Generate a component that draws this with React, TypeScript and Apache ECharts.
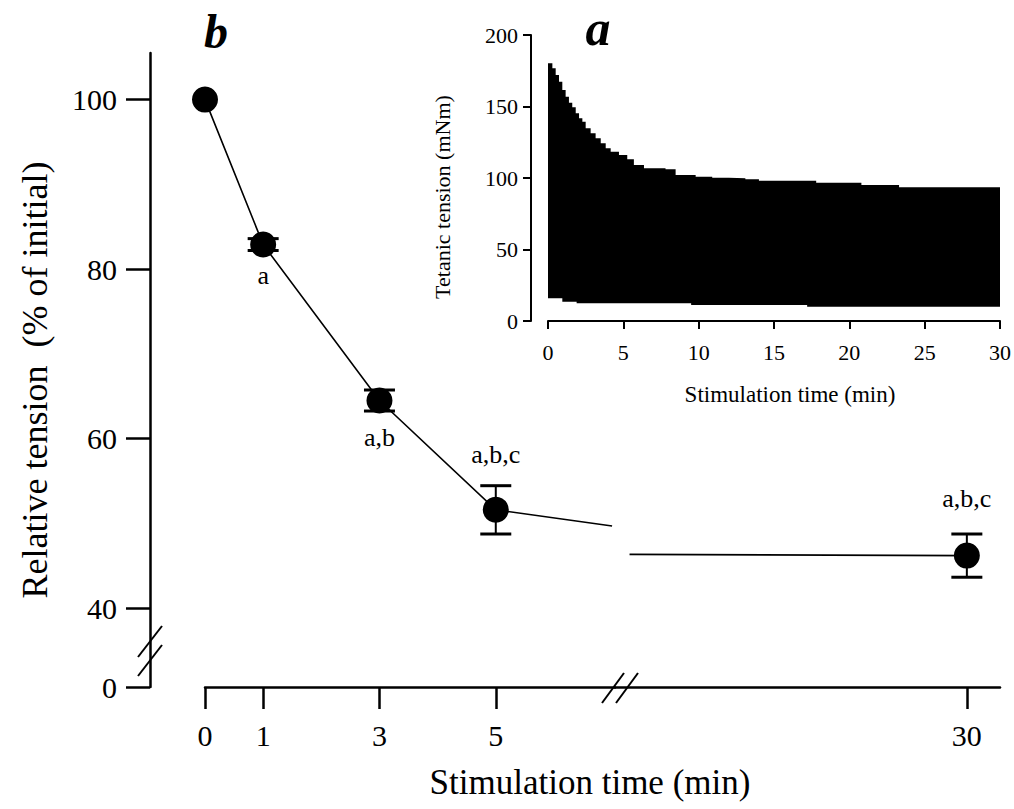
import React, { useEffect, useRef } from 'react';
import * as echarts from 'echarts';

// ---------- Panel b data ----------
const earlyTimes = [0, 1, 3, 5];
const earlyValues = [100, 82.9, 64.5, 51.6];
const earlyErrors = [0, 0.7, 1.24, 2.85];
const earlyLabels = ['', 'a', 'a,b', 'a,b,c'];
const lateTimes = [30];
const lateValues = [46.2];
const lateErrors = [2.55];
const lateLabels = ['a,b,c'];
// ends of the connecting line on either side of the x-axis break
const lineBreakLeft = [7.0, 49.7];
const lineBreakRight = [24.2, 46.35];
const xTicksLeft = [0, 1, 3, 5];
const xTicksRight = [30];
const yTicks = [40, 60, 80, 100];
const yBreakZeroLabel = '0';

// ---------- Panel a (inset) data ----------
const insetTopTimes = [0, 0.29, 0.51, 0.73, 0.95, 1.17, 1.39, 1.61, 1.84, 2.06, 2.28, 2.5, 2.83, 3.16, 3.5, 3.83, 4.16, 4.71, 5.26, 5.7, 6.37, 7.8, 8.47, 9.8, 10.9, 12, 13.1, 14, 17.8, 20.8, 23.3, 30];
const insetTopValues = [180.2, 176.7, 172.0, 167.3, 161.5, 156.9, 152.7, 149.4, 145.2, 141.7, 139.4, 134.8, 131.3, 127.8, 124.3, 120.8, 118.4, 116.1, 113.1, 109.1, 106.8, 106.1, 102.1, 100.9, 100.2, 99.8, 99.1, 98.1, 96.7, 95.1, 93.5, 93.5];
const insetBottomTimes = [0, 0.95, 1.9, 9.5, 17.2, 30];
const insetBottomValues = [15.9, 13.5, 12.4, 11.2, 10.0, 10.0];

// ---------- layout constants ----------
const FONT = '"Liberation Serif", "Times New Roman", serif';
const Y_MIN = 30.7; // axis floor, where the broken axis shows 0
const Y_MAX = 105.5;
const labelOffsets = { early: [0, 31, 37, -55], late: [-57] };

export default function App() {
  const ref = useRef<HTMLDivElement>(null);
  useEffect(() => {
    if (!ref.current) return;
    const chart = echarts.init(ref.current, null, { renderer: 'svg' });

    const errRender = (params: any, api: any) => {
      const x = api.value(0), y = api.value(1), e = api.value(2);
      if (!e) return { type: 'group', children: [] };
      const t = api.coord([x, y + e]);
      const b = api.coord([x, y - e]);
      const hw = 15.5;
      return {
        type: 'group',
        children: [
          { type: 'line', shape: { x1: t[0], y1: t[1], x2: b[0], y2: b[1] }, style: { stroke: '#000', lineWidth: 2 } },
          { type: 'line', shape: { x1: t[0] - hw, y1: t[1], x2: t[0] + hw, y2: t[1] }, style: { stroke: '#000', lineWidth: 3 } },
          { type: 'line', shape: { x1: b[0] - hw, y1: b[1], x2: b[0] + hw, y2: b[1] }, style: { stroke: '#000', lineWidth: 3 } },
        ],
      };
    };

    const pointItems = (times: number[], vals: number[], labels: string[], offs: number[]) =>
      times.map((t, i) => ({
        value: [t, vals[i]],
        label: {
          show: !!labels[i],
          formatter: labels[i],
          position: [13, 13 + offs[i]],
          align: 'center',
          verticalAlign: 'middle',
          fontSize: 26,
          fontFamily: FONT,
          color: '#000',
        },
      }));

    const mainAxisLine = { show: true, onZero: false, lineStyle: { color: '#000', width: 2.5 } };
    const sl = { stroke: '#000', lineWidth: 2 };

    const option: any = {
      animation: false,
      backgroundColor: '#fff',
      textStyle: { fontFamily: FONT, color: '#000' },
      grid: [
        { left: 205, top: 53, width: 410, height: 634 },
        { left: 615, top: 53, width: 385, height: 634 },
        { left: 548, top: 35, width: 452, height: 286 },
      ],
      xAxis: [
        {
          gridIndex: 0, type: 'value', min: 0, max: 7.05,
          axisLine: mainAxisLine,
          axisTick: { show: true, customValues: xTicksLeft, length: 22, lineStyle: { width: 2.5, color: '#000' } },
          axisLabel: { customValues: xTicksLeft, fontSize: 30, fontFamily: FONT, color: '#000', margin: 33 },
          splitLine: { show: false },
        },
        {
          gridIndex: 1, type: 'value', min: 23.95, max: 30.57,
          axisLine: mainAxisLine,
          axisTick: { show: true, customValues: xTicksRight, length: 22, lineStyle: { width: 2.5, color: '#000' } },
          axisLabel: { customValues: xTicksRight, fontSize: 30, fontFamily: FONT, color: '#000', margin: 33 },
          splitLine: { show: false },
        },
        {
          gridIndex: 2, type: 'value', min: 0, max: 30, interval: 5, z: 10,
          axisLine: { show: true, onZero: false, lineStyle: { color: '#000', width: 2 } },
          axisTick: { show: true, length: 8, lineStyle: { width: 2, color: '#000' } },
          axisLabel: { fontSize: 22, fontFamily: FONT, color: '#000', margin: 20 },
          splitLine: { show: false },
        },
      ],
      yAxis: [
        {
          gridIndex: 0, type: 'value', min: Y_MIN, max: Y_MAX, offset: 55,
          axisLine: mainAxisLine,
          axisTick: { show: true, customValues: [Y_MIN, ...yTicks], length: 24, lineStyle: { width: 2.5, color: '#000' } },
          axisLabel: {
            customValues: [Y_MIN, ...yTicks], fontSize: 30, fontFamily: FONT, color: '#000', margin: 33,
            formatter: (v: number) => (Math.abs(v - Y_MIN) < 0.01 ? yBreakZeroLabel : String(v)),
          },
          splitLine: { show: false },
        },
        {
          gridIndex: 1, type: 'value', min: Y_MIN, max: Y_MAX, show: false,
          axisLine: { onZero: false },
          splitLine: { show: false },
        },
        {
          gridIndex: 2, type: 'value', min: 0, max: 200, interval: 50, offset: 17, z: 10,
          axisLine: { show: true, onZero: false, lineStyle: { color: '#000', width: 2 } },
          axisTick: { show: true, length: 8, lineStyle: { width: 2, color: '#000' } },
          axisLabel: { fontSize: 22, fontFamily: FONT, color: '#000', margin: 13 },
          splitLine: { show: false },
        },
      ],
      series: [
        // inset: stimulation record envelope
        {
          type: 'line', xAxisIndex: 2, yAxisIndex: 2, step: 'end', symbol: 'none', z: 2,
          data: insetTopTimes.map((t, i) => [t, insetTopValues[i]]),
          lineStyle: { width: 0 }, areaStyle: { color: '#000', opacity: 1 },
        },
        {
          type: 'line', xAxisIndex: 2, yAxisIndex: 2, step: 'end', symbol: 'none', z: 3,
          data: insetBottomTimes.map((t, i) => [t, insetBottomValues[i]]),
          lineStyle: { width: 0 }, areaStyle: { color: '#fff', opacity: 1 },
        },
        // main connecting lines
        {
          type: 'line', xAxisIndex: 0, yAxisIndex: 0, symbol: 'none', z: 2,
          data: [...earlyTimes.map((t, i) => [t, earlyValues[i]]), lineBreakLeft],
          lineStyle: { color: '#000', width: 1.6 },
        },
        {
          type: 'line', xAxisIndex: 1, yAxisIndex: 1, symbol: 'none', z: 2,
          data: [lineBreakRight, ...lateTimes.map((t, i) => [t, lateValues[i]])],
          lineStyle: { color: '#000', width: 1.6 },
        },
        // error bars
        {
          type: 'custom', xAxisIndex: 0, yAxisIndex: 0, z: 3, renderItem: errRender,
          encode: { x: 0, y: 1 },
          data: earlyTimes.map((t, i) => [t, earlyValues[i], earlyErrors[i]]),
        },
        {
          type: 'custom', xAxisIndex: 1, yAxisIndex: 1, z: 3, renderItem: errRender,
          encode: { x: 0, y: 1 },
          data: lateTimes.map((t, i) => [t, lateValues[i], lateErrors[i]]),
        },
        // points
        {
          type: 'scatter', xAxisIndex: 0, yAxisIndex: 0, z: 4, symbolSize: 26,
          itemStyle: { color: '#000', opacity: 1 },
          data: pointItems(earlyTimes, earlyValues, earlyLabels, labelOffsets.early),
        },
        {
          type: 'scatter', xAxisIndex: 1, yAxisIndex: 1, z: 4, symbolSize: 26,
          itemStyle: { color: '#000', opacity: 1 },
          data: pointItems(lateTimes, lateValues, lateLabels, labelOffsets.late),
        },
      ],
      graphic: [
        // axis break marks
        { type: 'line', shape: { x1: 138, y1: 657, x2: 162, y2: 626 }, style: sl, z: 20 },
        { type: 'line', shape: { x1: 138, y1: 676, x2: 162, y2: 645 }, style: sl, z: 20 },
        { type: 'line', shape: { x1: 602, y1: 703, x2: 624, y2: 673 }, style: sl, z: 20 },
        { type: 'line', shape: { x1: 616, y1: 703, x2: 638, y2: 673 }, style: sl, z: 20 },
        // panel letters
        { type: 'text', x: 216, y: 31, style: { text: 'b', font: `italic bold 48px ${FONT}`, fill: '#000', align: 'center', verticalAlign: 'middle' } },
        { type: 'text', x: 598, y: 28, style: { text: 'a', font: `italic bold 50px ${FONT}`, fill: '#000', align: 'center', verticalAlign: 'middle' } },
        // axis titles
        { type: 'text', x: 35, y: 380, rotation: Math.PI / 2, style: { text: 'Relative tension  (% of initial)', font: `36px ${FONT}`, fill: '#000', align: 'center', verticalAlign: 'middle' } },
        { type: 'text', x: 590, y: 782, style: { text: 'Stimulation time (min)', font: `35px ${FONT}`, fill: '#000', align: 'center', verticalAlign: 'middle' } },
        { type: 'text', x: 442, y: 197, rotation: Math.PI / 2, style: { text: 'Tetanic tension (mNm)', font: `22px ${FONT}`, fill: '#000', align: 'center', verticalAlign: 'middle' } },
        { type: 'text', x: 790, y: 394, style: { text: 'Stimulation time (min)', font: `23px ${FONT}`, fill: '#000', align: 'center', verticalAlign: 'middle' } },
      ],
    };
    chart.setOption(option);
    return () => chart.dispose();
  }, []);
  return <div ref={ref} style={{ position: 'absolute', left: 0, top: 0, width: 1014, height: 809 }} />;
}
